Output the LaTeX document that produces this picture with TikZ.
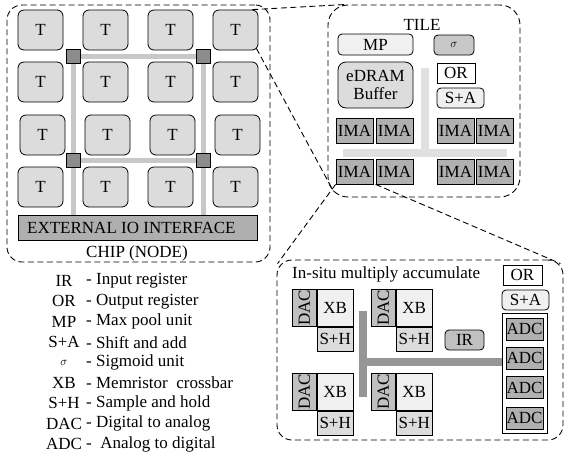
\documentclass[tikz,border=0pt]{standalone}
\usepackage{fontspec}
\setmainfont{Liberation Serif}
\usetikzlibrary{positioning,calc}
\definecolor{cgtile}{RGB}{220,220,220}
\definecolor{cgrouter}{RGB}{140,140,140}
\definecolor{cgbus}{RGB}{200,200,200}
\definecolor{cgio}{RGB}{175,175,175}
\definecolor{cgima}{RGB}{176,176,176}
\definecolor{cgdac}{RGB}{192,192,192}
\definecolor{cgpale}{RGB}{240,240,240}
\definecolor{cgsig}{RGB}{200,200,200}
\definecolor{cgtbus}{RGB}{224,224,224}
\definecolor{cgmbus}{RGB}{150,150,150}
\newcommand\fsz{\fontsize{17}{18}\selectfont}
\newcommand\fsig{\fontsize{13}{14}\selectfont}
\tikzset{
  frame/.style={rectangle,draw=black,line width=0.9pt,dash pattern=on 6pt off 3.5pt},
  zoomline/.style={draw=black,line width=0.9pt,dash pattern=on 6pt off 3.5pt},
  tbox/.style={rectangle,draw=black,line width=0.8pt,rounded corners=6pt,fill=cgtile,
    minimum width=45pt,minimum height=40pt,inner sep=0pt,font=\fsz},
  router/.style={rectangle,draw=black,line width=0.8pt,fill=cgrouter,minimum size=14pt,inner sep=0pt},
  bus/.style={line width=5pt,color=cgbus},
  iobox/.style={rectangle,draw=black,line width=0.8pt,fill=cgio,minimum width=239pt,
    minimum height=25pt,inner sep=0pt,font=\fsz},
  unit/.style={rectangle,draw=black,line width=0.8pt,inner sep=0pt,font=\fsz,align=center},
  runit/.style={unit,rounded corners=4pt},
  ima/.style={unit,fill=cgima,minimum width=37pt,minimum height=25pt},
  adc/.style={unit,fill=cgima,minimum width=37pt,minimum height=22pt},
  dac/.style={unit,fill=cgdac,minimum width=24pt,minimum height=37pt},
  xb/.style={unit,fill=cgpale,minimum width=36pt,minimum height=37pt},
  sh/.style={unit,fill=cgtile,minimum width=36pt,minimum height=24pt},
  tbus/.style={line width=8pt,color=cgtbus},
  mbus/.style={line width=8pt,color=cgmbus},
  lgd/.style={font=\fsz,inner sep=0pt},
}
\begin{document}
\begin{tikzpicture}[x=1pt,y=-1pt]
  \useasboundingbox (0,0) rectangle (564,456);
  % chip
  \node[frame,rounded corners=15pt,minimum width=263pt,minimum height=257pt] (chip) at (138.5,133.5) {};
  \node[font=\fsz] (chiplab) at (137,253) {CHIP (NODE)};
  \node[iobox,anchor=north west] (io) at (18,215) {};
  \node[font=\fsz,anchor=west,inner sep=0pt] (iolab) at (27,228) {EXTERNAL IO INTERFACE};
  \coordinate (r1) at (73,56);
  \coordinate (r2) at (203,56);
  \coordinate (r3) at (73,160);
  \coordinate (r4) at (203,160);
  \draw[bus] (r1) -- (r2); \draw[bus] (r3) -- (r4);
  \draw[bus] (r1) -- (r1 |- io.north); \draw[bus] (r2) -- (r2 |- io.north);
  \foreach \r/\y/\d in {1/30/0,2/82/0,3/135/2,4/187/0}
    \foreach \c/\x in {1/40.5,2/105.5,3/170.5,4/235.5}
      \node[tbox] (t\r\c) at (\x+\d,\y) {T};
  \foreach \i in {1,...,4}
    \node[router] (rt\i) at (r\i) {};
  % tile
  \node[frame,rounded corners=20pt,minimum width=192pt,minimum height=192pt] (tile) at (424,101) {};
  \node[font=\fsz] (tilelab) at (422,25) {TILE};
  \coordinate (tb1) at (425,68);
  \coordinate (tb2) at (425,153);
  \coordinate (tb3) at (343,153);
  \coordinate (tb4) at (507,153);
  \draw[tbus] (tb1) -- (tb2); \draw[tbus] (tb3) -- (tb4);
  \node[runit,fill=cgpale,minimum width=75pt,minimum height=21pt] (mp) at (375.5,44.5) {MP};
  \node[runit,fill=cgsig,minimum width=40pt,minimum height=20pt,font=\fsig] (sig) at (454,45) {$\sigma$};
  \node[unit,fill=cgtile,rounded corners=8pt,minimum width=75pt,minimum height=46pt] (edram) at (375.5,85) {eDRAM\\Buffer};
  \node[unit,fill=white,minimum width=38pt,minimum height=20pt] (tor) at (456,73) {OR};
  \node[runit,fill=cgpale,minimum width=47pt,minimum height=20pt] (tsa) at (460.5,98) {S+A};
  \foreach \r/\y in {1/130.5,2/171.5}
    \foreach \c/\x in {1/354.5,2/394.5,3/455.5,4/494.5}
      \node[ima] (ima\r\c) at (\x,\y) {IMA};
  % in-situ MAC
  \node[frame,rounded corners=15pt,minimum width=286pt,minimum height=180pt] (mac) at (420,350) {};
  \node[font=\fsz,anchor=west,inner sep=0pt] (maclab) at (292,274) {In-situ multiply accumulate};
  \node[unit,fill=white,minimum width=39pt,minimum height=20pt] (mor) at (522.5,275) {OR};
  \node[runit,fill=cgpale,minimum width=47pt,minimum height=20pt] (msa) at (525.5,300) {S+A};
  \node[unit,fill=white,minimum width=45pt,minimum height=120pt] (adccol) at (524.5,373) {};
  \foreach \i/\y in {1/329,2/358,3/387.5,4/418}
    \node[adc] (adc\i) at (524.5,\y) {ADC};
  \node[runit,fill=cgdac,minimum width=39pt,minimum height=20pt] (ir) at (464.5,340) {IR};
  \coordinate (mb1) at (363,311);
  \coordinate (mb2) at (363,397);
  \coordinate (mb3) at (363,362);
  \draw[mbus] (mb1) -- (mb2);
  \draw[mbus] (mb3) -- (mb3 -| adccol.west);
  \foreach \k/\x/\y in {1/292/289,2/371/289,3/292/373,4/371/373}{
    \node[dac,anchor=north west] (dac\k) at (\x,\y) {\rotatebox{90}{DAC}};
    \node[xb,right=0pt of dac\k] (xb\k) {XB};
    \node[sh,below=0pt of xb\k] (sh\k) {S+H};
  }
  % zoom lines
  \draw[zoomline] ([xshift=-6pt]t14.north east) -- ([xshift=17pt]tile.north west);
  \draw[zoomline] ([xshift=-2pt,yshift=2pt]t14.south east) -- ([xshift=6pt,yshift=6pt]tile.south west);
  \draw[zoomline] (ima21.south west) -- ([xshift=1pt,yshift=-4pt]mac.north west);
  \draw[zoomline] (ima22.south west) -- ([xshift=-3pt,yshift=-4pt]mac.north east);
  % legend
  \foreach \i/\ab/\de in {0/IR/Input register,1/OR/Output register,2/MP/Max pool unit,
      3/S+A/Shift and add,4/{\fsig$\sigma$}/Sigmoid unit,
      5/XB/Memristor\ \ crossbar,6/S+H/Sample and hold,7/DAC/Digital to analog,
      8/ADC/\ Analog to digital}{
    \node[lgd] (ab\i) at (64,281+20.4*\i) {\ab};
    \node[lgd,anchor=west] (de\i) at (86,281+20.4*\i) {- \de};
  }
\end{tikzpicture}
\end{document}
